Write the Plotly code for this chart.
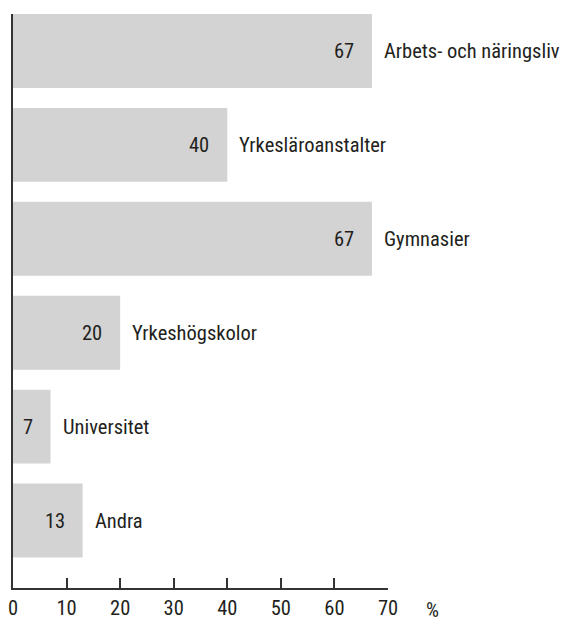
import plotly.graph_objects as go

categories = ["Arbets- och näringsliv", "Yrkesläroanstalter", "Gymnasier",
              "Yrkeshögskolor", "Universitet", "Andra"]
values = [67, 40, 67, 20, 7, 13]
tick_vals = [0, 10, 20, 30, 40, 50, 60, 70]

FONT = "Roboto Condensed, Liberation Sans Narrow, sans-serif"
TXT = "#231f20"
FS = 20.5

order = list(reversed(categories))

fig = go.Figure()
fig.add_trace(go.Bar(
    x=values, y=categories, orientation="h",
    marker=dict(color="#d3d3d3", line=dict(width=0)),
    width=0.787, hoverinfo="skip",
))

annotations = []
for c, v in zip(categories, values):
    annotations.append(dict(x=v, y=c, xref="x", yref="y", text=str(v),
                            xanchor="right", yanchor="middle", xshift=-16,
                            showarrow=False, font=dict(family=FONT, size=FS, color=TXT)))
    annotations.append(dict(x=v, y=c, xref="x", yref="y", text=c,
                            xanchor="left", yanchor="middle", xshift=10,
                            showarrow=False, font=dict(family=FONT, size=FS, color=TXT)))
annotations.append(dict(x=1, y=0, xref="paper", yref="paper", text="%",
                        xanchor="center", yanchor="top", xshift=44, yshift=-8,
                        showarrow=False, font=dict(family=FONT, size=FS, color=TXT)))

fig.update_layout(
    width=561, height=623,
    margin=dict(l=13, r=173, t=14, b=35),
    paper_bgcolor="white", plot_bgcolor="white",
    showlegend=False,
    annotations=annotations,
    xaxis=dict(range=[0, 70], tickvals=tick_vals, ticks="inside", ticklen=10,
               tickwidth=2, tickcolor="#333333", showline=True, linewidth=2,
               linecolor="#333333", showgrid=False, zeroline=False,
               tickfont=dict(family=FONT, size=FS, color=TXT), automargin=False,
               fixedrange=True),
    yaxis=dict(categoryorder="array", categoryarray=order, range=[-0.718, 5.394],
               showticklabels=False, ticks="", showline=True, linewidth=2,
               linecolor="#333333", showgrid=False, zeroline=False,
               automargin=False, fixedrange=True),
)

fig.write_html("out.html", config={"displayModeBar": False},
               post_script="document.body.style.margin='0';document.body.style.padding='0';")
